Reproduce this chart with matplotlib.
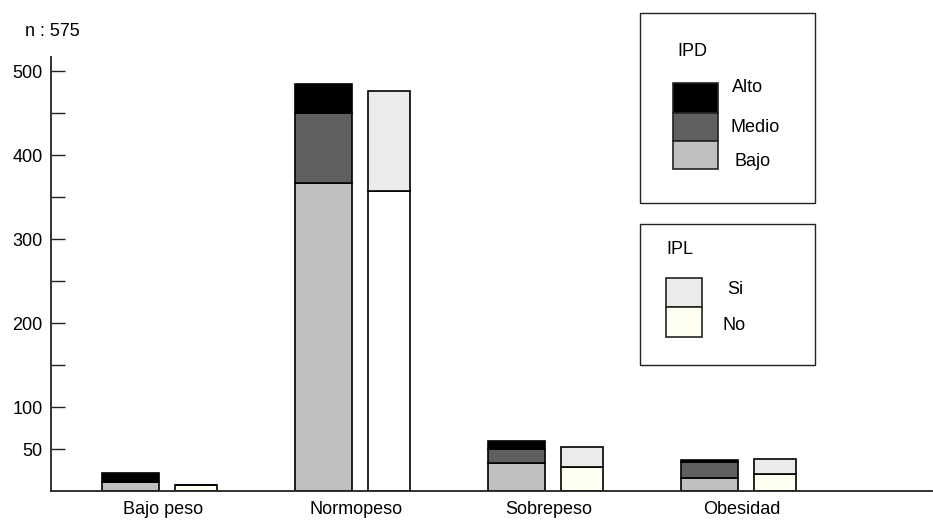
import matplotlib
matplotlib.use("Agg")
import matplotlib.pyplot as plt
from matplotlib.patches import Rectangle
import numpy as np

plt.rcParams['font.family'] = ['Liberation Sans', 'DejaVu Sans']

# ---- data ----
categories = ['Bajo peso', 'Normopeso', 'Sobrepeso', 'Obesidad']
ipd_bajo = [11, 367, 33, 16]
ipd_medio = [0, 83, 17, 18]
ipd_alto = [10, 35, 10, 3]
ipl_no = [7, 357, 28, 20]
ipl_si = [0, 119, 24, 18]
y_ticks = [50, 100, 150, 200, 250, 300, 350, 400, 450, 500]
y_tick_labels = ['50', '100', '', '200', '', '300', '', '400', '', '500']
n_label = 'n : 575'

# ---- styles ----
c_alto, c_medio, c_bajo = '#000000', '#606060', '#c0c0c0'
c_si, c_no = '#ebebe9', '#fffff2'
no_colors = [c_no, '#ffffff', c_no, c_no]
W, H = 933, 521
fs = 13

fig = plt.figure(figsize=(W / 100, H / 100), dpi=100)

def fx(px):
    return px / W

def fy(py):
    return 1 - py / H

ax = fig.add_axes([fx(51), fy(491), fx(932) - fx(51), fy(57) - fy(491)])

x = np.arange(len(categories))
pd_x = x + 0.41
pl_x = x + 0.75
pd_w = 0.295
pl_w = 0.218

kw = dict(edgecolor='black', linewidth=1.2)
b1 = np.array(ipd_bajo)
b2 = b1 + np.array(ipd_medio)
ax.bar(pd_x, ipd_bajo, pd_w, color=c_bajo, **kw)
ax.bar(pd_x, ipd_medio, pd_w, bottom=b1, color=c_medio, **kw)
ax.bar(pd_x, ipd_alto, pd_w, bottom=b2, color=c_alto, **kw)
ax.bar(pl_x, ipl_no, pl_w, color=no_colors, **kw)
ax.bar(pl_x, ipl_si, pl_w, bottom=np.array(ipl_no), color=c_si, **kw)

ax.set_xlim(0, 4.565)
ax.set_ylim(0, 516.7)

for s in ['top', 'right']:
    ax.spines[s].set_visible(False)
for s in ['left', 'bottom']:
    ax.spines[s].set_linewidth(1.3)
    ax.spines[s].set_color('#222222')

ax.set_yticks(y_ticks)
ax.set_yticklabels(y_tick_labels, fontsize=fs)
ax.tick_params(axis='y', direction='in', length=10, width=1.0, pad=6, color='#222222')
ax.set_xticks(x + 0.58)
ax.set_xticklabels(categories, fontsize=fs)
ax.tick_params(axis='x', length=0, pad=7)

fig.text(fx(25), fy(32), n_label, fontsize=fs, ha='left', va='center')

# ---- legend boxes ----
def rect(x0, y0, x1, y1, fc, lw=1.2):
    fig.patches.append(Rectangle((fx(x0), fy(y1)), fx(x1) - fx(x0), fy(y0) - fy(y1),
                                 transform=fig.transFigure, facecolor=fc,
                                 edgecolor='#222222', linewidth=lw))

rect(640, 13, 815, 203, 'white', 1.0)
fig.text(fx(677), fy(52), 'IPD', fontsize=fs, ha='left', va='center')
rect(673, 83, 718, 113, c_alto)
rect(673, 113, 718, 141, c_medio)
rect(673, 141, 718, 169, c_bajo)
fig.text(fx(732), fy(88), 'Alto', fontsize=fs, ha='left', va='center')
fig.text(fx(731), fy(128), 'Medio', fontsize=fs, ha='left', va='center')
fig.text(fx(735), fy(162), 'Bajo', fontsize=fs, ha='left', va='center')

rect(640, 224, 815, 365, 'white', 1.0)
fig.text(fx(666), fy(250), 'IPL', fontsize=fs, ha='left', va='center')
rect(666, 278, 702, 307, c_si)
rect(666, 307, 702, 337, c_no)
fig.text(fx(727), fy(290), 'Si', fontsize=fs, ha='left', va='center')
fig.text(fx(723), fy(325), 'No', fontsize=fs, ha='left', va='center')

fig.savefig('out.png', dpi=100)
